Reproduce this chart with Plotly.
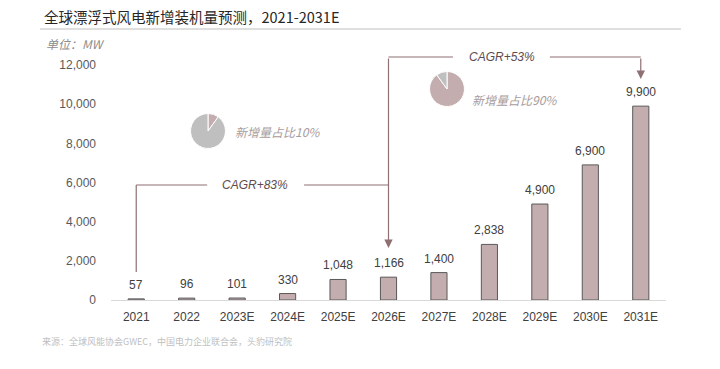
import plotly.graph_objects as go

categories = ["2021", "2022", "2023E", "2024E", "2025E", "2026E",
              "2027E", "2028E", "2029E", "2030E", "2031E"]
capacity_mw = [57, 96, 101, 330, 1048, 1166, 1400, 2838, 4900, 6900, 9900]
bar_labels = ["57", "96", "101", "330", "1,048", "1,166", "1,400",
              "2,838", "4,900", "6,900", "9,900"]
y_ticks = [0, 2000, 4000, 6000, 8000, 10000, 12000]
y_tick_labels = ["0", "2,000", "4,000", "6,000", "8,000", "10,000", "12,000"]

pie_early = [10, 90]   # new-share 10% (pink), rest grey
pie_late = [90, 10]    # new-share 90% (pink), rest grey

title = "全球漂浮式风电新增装机量预测，2021-2031E"
unit = "单位：MW"
source = "来源：全球风能协会GWEC，中国电力企业联合会，头豹研究院"

BAR = "#C4ADAE"
GREY = "#BFBFBF"
LINE = "#8E6F72"
CJK = "Noto Sans CJK SC, Liberation Sans, sans-serif"
NUM = "Liberation Sans, Arial, sans-serif"

# layout geometry
L, R, T, B = 111, 54, 45, 69
W, H = 720, 369
plot_w = W - L - R
plot_h = H - T - B
y_top = 12000 * plot_h / (300 - 65)


def py(pix):
    """pixel row -> data value"""
    return (300 - pix) / plot_h * y_top


def px_idx(pix):
    return (pix - 136) / 50.5


xs = list(range(len(categories)))

fig = go.Figure()
fig.add_trace(go.Bar(
    x=xs, y=capacity_mw,
    marker=dict(color=BAR, line=dict(color="#595959", width=1)),
    width=0.32, hoverinfo="skip", showlegend=False,
))


def pie_domain(cx, cy, r):
    return dict(x=[(cx - r - L) / plot_w, (cx + r - L) / plot_w],
                y=[(300 - cy - r) / plot_h, (300 - cy + r) / plot_h])


fig.add_trace(go.Pie(values=pie_early, marker=dict(colors=[BAR, GREY], line=dict(color="white", width=1)),
                     sort=False, direction="clockwise", rotation=0, textinfo="none",
                     hoverinfo="skip", showlegend=False, domain=pie_domain(208, 131, 17.5)))
fig.add_trace(go.Pie(values=pie_late, marker=dict(colors=[BAR, GREY], line=dict(color="white", width=1)),
                     sort=False, direction="clockwise", rotation=0, textinfo="none",
                     hoverinfo="skip", showlegend=False, domain=pie_domain(447, 89, 17.5)))

shapes = []
ann = []

# bar value labels
for xi, v, lab in zip(xs, capacity_mw, bar_labels):
    ann.append(dict(x=xi, y=v, xref="x", yref="y", text=lab, showarrow=False,
                    yanchor="bottom", yshift=5,
                    font=dict(size=12, color="#404040", family=NUM)))

# header rule
shapes.append(dict(type="line", xref="paper", yref="paper",
                   x0=(40 - L) / plot_w, x1=(681 - L) / plot_w,
                   y0=(300 - 29) / plot_h, y1=(300 - 29) / plot_h,
                   line=dict(color="#BFBFBF", width=1)))


def seg(x0, y0, x1, y1):
    shapes.append(dict(type="line", xref="x", yref="y", x0=x0, y0=y0, x1=x1, y1=y1,
                       line=dict(color=LINE, width=1.2)))


def arrow(x, y_from, y_to):
    ann.append(dict(x=x, y=y_to, ax=x, ay=y_from, xref="x", yref="y", axref="x", ayref="y",
                    text="", showarrow=True, arrowhead=2, arrowsize=1.4, arrowwidth=1.2,
                    arrowcolor=LINE))


# upper bracket (CAGR 2026E->2031E)
yu = py(57)
seg(5, yu, px_idx(453), yu)
seg(px_idx(550), yu, 10, yu)
arrow(10, yu, py(79))
arrow(5, yu, py(248))
ann.append(dict(x=px_idx(502), y=yu, xref="x", yref="y", showarrow=False,
                text="<i>CAGR+53%</i>", font=dict(size=12, color="#5E4B4E", family=NUM)))

# lower bracket (CAGR 2021->2026E)
yl = py(185)
seg(0, yl, 0, py(272))
seg(0, yl, px_idx(207), yl)
seg(px_idx(304), yl, 5, yl)
ann.append(dict(x=px_idx(255), y=yl, xref="x", yref="y", showarrow=False,
                text="<i>CAGR+83%</i>", font=dict(size=12, color="#5E4B4E", family=NUM)))

# pie captions
ann.append(dict(x=(233 - L) / plot_w, y=(300 - 131) / plot_h, xref="paper", yref="paper",
                xanchor="left", showarrow=False, text="<i>新增量占比10%</i>",
                font=dict(size=12, color="#A89C9D", family=CJK)))
ann.append(dict(x=(470 - L) / plot_w, y=(300 - 89) / plot_h, xref="paper", yref="paper",
                xanchor="left", showarrow=False, text="<i>新增量占比90%</i>",
                font=dict(size=12, color="#A89C9D", family=CJK)))

# title, unit, source
ann.append(dict(x=(42 - L) / plot_w, y=(300 - 17) / plot_h, xref="paper", yref="paper",
                xanchor="left", yanchor="middle", showarrow=False, text=title,
                font=dict(size=14.5, color="#262626", family=CJK)))
ann.append(dict(x=(44 - L) / plot_w, y=(300 - 43) / plot_h, xref="paper", yref="paper",
                xanchor="left", yanchor="middle", showarrow=False, text="<i>" + unit + "</i>",
                font=dict(size=12, color="#8C8C8C", family=CJK)))
ann.append(dict(x=(40 - L) / plot_w, y=(300 - 341) / plot_h, xref="paper", yref="paper",
                xanchor="left", yanchor="middle", showarrow=False, text=source,
                font=dict(size=9, color="#BFBFBF", family=CJK)))

fig.update_layout(
    width=W, height=H, margin=dict(l=L, r=R, t=T, b=B),
    paper_bgcolor="white", plot_bgcolor="white",
    shapes=shapes, annotations=ann,
    xaxis=dict(tickmode="array", tickvals=xs, ticktext=categories,
               range=[-0.5, 10.5], showgrid=False, zeroline=False,
               showline=True, linecolor="#D9D9D9", linewidth=1, ticks="",
               tickfont=dict(size=12, color="#404040", family=NUM), ticklabelstandoff=6),
    yaxis=dict(range=[0, y_top], tickmode="array", tickvals=y_ticks, ticktext=y_tick_labels,
               showgrid=False, zeroline=False, showline=False, ticks="",
               tickfont=dict(size=12, color="#595959", family=NUM), ticklabelstandoff=14),
)

fig.write_html("out.html", config={"displayModeBar": False},
               post_script="document.body.style.margin='0';document.body.style.overflow='hidden';")
